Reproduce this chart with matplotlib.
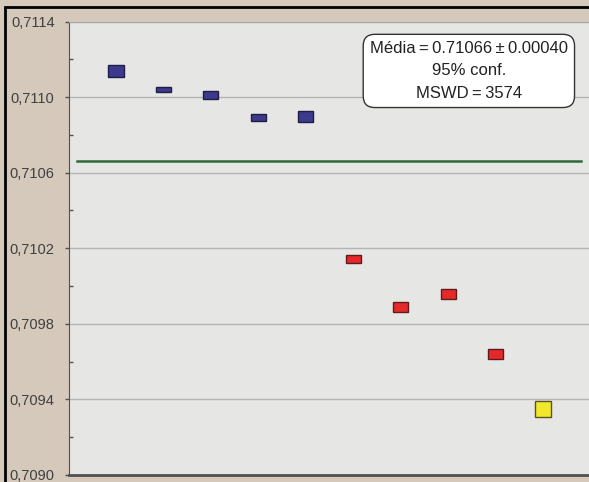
import matplotlib.pyplot as plt
import matplotlib.patches as mpatches
from matplotlib.ticker import FixedLocator, FuncFormatter

# Razões isotópicas (centro) e meia altura das caixas de erro
amostras  = [1, 2, 3, 4, 5, 6, 7, 8, 9, 10]
razoes    = [0.711137, 0.711040, 0.711010, 0.710891, 0.710898,
             0.710142, 0.709890, 0.709957, 0.709640, 0.709349]
erros     = [0.0000328, 0.0000143, 0.0000212, 0.0000169, 0.0000291,
             0.0000222, 0.0000265, 0.0000265, 0.0000265, 0.0000439]
grupos    = ['azul'] * 5 + ['vermelho'] * 4 + ['amarelo']
media     = 0.71066
ticks_y   = [0.7090, 0.7094, 0.7098, 0.7102, 0.7106, 0.7110, 0.7114]
minor_y   = [0.7092, 0.7096, 0.7100, 0.7104, 0.7108, 0.7112]
texto_box = "Média\u2009=\u20090.71066\u2009±\u20090.00040\n95% conf.\nMSWD\u2009=\u20093574"

cores = {'azul': ('#3d3a8e', '#1f1d45'),
         'vermelho': ('#e5292b', '#5e1c1c'),
         'amarelo': ('#f2e82a', '#5b5222')}

fig = plt.figure(figsize=(5.89, 4.82), dpi=100)
fig.patch.set_facecolor('#d5c9bb')
ax = fig.add_axes([68.5 / 589, 7 / 482, 522 / 589, 453.5 / 482])
ax.set_facecolor('#e6e6e4')

for x, v, e, g in zip(amostras, razoes, erros, grupos):
    face, borda = cores[g]
    ax.bar(x, 2 * e, bottom=v - e, width=0.32, color=face,
           edgecolor=borda, linewidth=1.0, zorder=3)

ax.plot([0.18, 10.81], [media, media], color='#2f6a3a', linewidth=1.8, zorder=2)

ax.set_xlim(0, 11)
ax.set_ylim(0.7090, 0.7114)
ax.yaxis.set_major_locator(FixedLocator(ticks_y))
ax.yaxis.set_minor_locator(FixedLocator(minor_y))
ax.yaxis.set_major_formatter(FuncFormatter(lambda v, p: f"{v:.4f}".replace('.', ',')))
ax.set_xticks([])
ax.grid(axis='y', which='major', color='#b4b4b4', linewidth=1.0, zorder=1)
ax.tick_params(axis='y', which='major', direction='out', length=3, width=1,
               color='#505050', labelsize=10.5, labelcolor='#404040', pad=7)
ax.tick_params(axis='y', which='minor', direction='in', length=3, width=1,
               color='#505050')
for lab in ax.get_yticklabels():
    lab.set_fontfamily('Liberation Sans')

ax.spines['left'].set_color('#505050')
ax.spines['bottom'].set_color('#505050')
ax.spines['bottom'].set_linewidth(2)
ax.spines['top'].set_color('#a8a8a8')
ax.spines['right'].set_visible(False)

ax.text(0.767, 0.891, texto_box, transform=ax.transAxes, ha='center', va='center',
        fontsize=12, family='Liberation Sans', color='#222222', linespacing=1.62,
        bbox=dict(boxstyle='round,pad=0.4,rounding_size=0.7', facecolor='white',
                  edgecolor='#333333', linewidth=1.0), zorder=5)

# moldura preta da figura
fig.patches.append(mpatches.Rectangle((5 / 589, -0.05), 1.1, 475 / 482 + 0.05,
                                      transform=fig.transFigure, fill=False,
                                      edgecolor='black', linewidth=2))

fig.savefig('out.png', dpi=100, facecolor=fig.get_facecolor())
